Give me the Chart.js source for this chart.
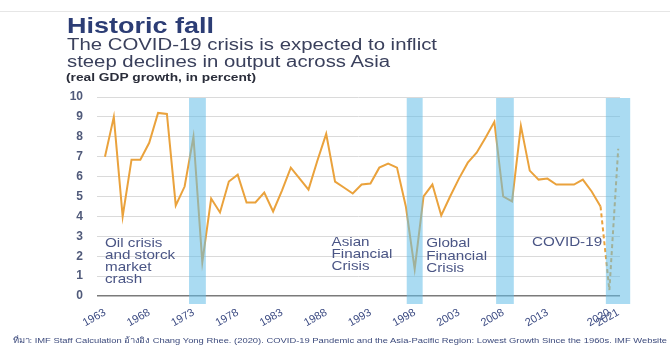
<!DOCTYPE html>
<html>
<head>
<meta charset="utf-8">
<script src="https://cdn.jsdelivr.net/npm/chart.js@4.4.1/dist/chart.umd.min.js"></script>
<style>
  html, body { margin: 0; padding: 0; background: #fff; }
  body { width: 670px; height: 347px; position: relative; overflow: hidden;
         font-family: "Liberation Sans", Arial, sans-serif; }
  #chart { position: absolute; left: 0; top: 0; }
  .txt { position: absolute; white-space: nowrap; display: inline-block;
         transform-origin: 0 0; line-height: 1; }
  #rule { position: absolute; left: 0; right: 0; top: 11px; height: 1px; background: #e6e6e6; }
  #title { left: 67px; top: 15px; font-size: 22px; font-weight: bold; color: #2c3d75; }
  #sub1 { left: 67px; top: 37px; font-size: 16px; color: #3a405c; }
  #sub2 { left: 67px; top: 53.5px; font-size: 16px; color: #3a405c; }
  #unit { left: 66px; top: 72px; font-size: 11px; font-weight: bold; color: #2a2d3a; }
  #source { left: 13px; top: 337px; font-size: 8px; color: #3c4a7c; }
</style>
</head>
<body>
<div id="rule"></div>
<canvas id="chart" width="670" height="347"></canvas>
<div class="txt" id="title" data-w="147">Historic fall</div>
<div class="txt" id="sub1" data-w="370">The COVID-19 crisis is expected to inflict</div>
<div class="txt" id="sub2" data-w="323">steep declines in output across Asia</div>
<div class="txt" id="unit" data-w="190">(real GDP growth, in percent)</div>
<div class="txt" id="source" data-w="654">ที่มา: IMF Staff Calculation อ้างอิง Chang Yong Rhee. (2020). COVID-19 Pandemic and the Asia-Pacific Region: Lowest Growth Since the 1960s. IMF Website</div>

<script>
"use strict";

// Real GDP growth, Asia (percent)
const years = [
  1963, 1964, 1965, 1966, 1967, 1968, 1969, 1970, 1971, 1972,
  1973, 1974, 1975, 1976, 1977, 1978, 1979, 1980, 1981, 1982,
  1983, 1984, 1985, 1986, 1987, 1988, 1989, 1990, 1991, 1992,
  1993, 1994, 1995, 1996, 1997, 1998, 1999, 2000, 2001, 2002,
  2003, 2004, 2005, 2006, 2007, 2008, 2009, 2010, 2011, 2012,
  2013, 2014, 2015, 2016, 2017, 2018, 2019,
];
const growth = [
  7.0, 9.0, 4.0, 6.85, 6.85, 7.7, 9.2, 9.15, 4.55, 5.5,
  8.0, 1.7, 4.9, 4.2, 5.75, 6.1, 4.7, 4.7, 5.2, 4.25,
  5.3, 6.45, 5.9, 5.35, 6.8, 8.15, 5.75, 5.45, 5.15, 5.6,
  5.65, 6.45, 6.65, 6.45, 4.5, 1.35, 5.0, 5.6, 4.05, 5.0,
  5.9, 6.7, 7.2, 7.95, 8.75, 5.0, 4.75, 8.55, 6.3, 5.85,
  5.9, 5.6, 5.6, 5.6, 5.85, 5.25, 4.5,
];

// IMF projection (dashed)
const forecastYears = [2019, 2020, 2021];
const forecastGrowth = [4.5, 0.3, 7.4];

const tickYears = [1963, 1968, 1973, 1978, 1983, 1988, 1993, 1998, 2003, 2008, 2013, 2020, 2021];

// Shaded crisis periods [from, to] in years
const crisisBands = [[1972.5, 1974.4], [1997.1, 1998.9], [2007.2, 2009.2], [2019.6, 2022.35]];

// Text notes anchored at (year, value)
const notes = [
  { year: 1963, value: 2.65, lines: ["Oil crisis", "and storck", "market", "crash"] },
  { year: 1988.6, value: 2.7, lines: ["Asian", "Financial", "Crisis"] },
  { year: 1999.3, value: 2.62, lines: ["Global", "Financial", "Crisis"] },
  { year: 2011.25, value: 2.7, lines: ["COVID-19"] },
];

const ORANGE = "#eaa23c";
const NAVY = "#3b4a82";

// stretch the html text to the widths seen in the reference
document.querySelectorAll(".txt").forEach(el => {
  const w = el.getBoundingClientRect().width;
  el.style.transform = `scaleX(${el.dataset.w / w})`;
});

const bandPlugin = {
  id: "bands",
  afterDatasetsDraw(chart) {
    const { ctx, chartArea, scales: { x } } = chart;
    ctx.save();
    ctx.fillStyle = "rgba(100,190,232,0.55)";
    crisisBands.forEach(([a, b]) => {
      const x0 = x.getPixelForValue(a);
      const x1 = x.getPixelForValue(b);
      ctx.fillRect(x0, chartArea.top + 1, x1 - x0, chartArea.bottom - chartArea.top + 7);
    });
    ctx.restore();
  },
};

const notePlugin = {
  id: "notes",
  afterDraw(chart) {
    const { ctx, scales: { x, y } } = chart;
    ctx.save();
    ctx.fillStyle = "#4a5585";
    ctx.font = "13px 'Liberation Sans', Arial, sans-serif";
    ctx.textBaseline = "middle";
    notes.forEach(n => {
      const px = x.getPixelForValue(n.year);
      const py = y.getPixelForValue(n.value);
      n.lines.forEach((line, i) => {
        ctx.save();
        ctx.translate(px, py + i * 12.2);
        ctx.scale(1.17, 1);
        ctx.fillText(line, 0, 0);
        ctx.restore();
      });
    });
    ctx.restore();
  },
};

new Chart(document.getElementById("chart"), {
  type: "line",
  data: {
    datasets: [
      {
        data: years.map((yr, i) => ({ x: yr, y: growth[i] })),
        borderColor: ORANGE,
        borderWidth: 2,
        pointRadius: 0,
        tension: 0,
      },
      {
        data: forecastYears.map((yr, i) => ({ x: yr, y: forecastGrowth[i] })),
        borderColor: ORANGE,
        borderWidth: 2,
        borderDash: [4, 3],
        pointRadius: 0,
        tension: 0,
      },
    ],
  },
  options: {
    responsive: false,
    animation: false,
    events: [],
    plugins: { legend: { display: false }, tooltip: { enabled: false } },
    layout: { padding: { top: 97, right: 50, bottom: 11, left: 0 } },
    scales: {
      x: {
        type: "linear",
        min: 1962.1,
        max: 2021.2,
        grid: { display: false },
        border: { display: false },
        afterBuildTicks: s => { s.ticks = tickYears.map(v => ({ value: v })); },
        afterFit: s => { s.height = 40; },
        ticks: {
          autoSkip: false,
          minRotation: 30,
          maxRotation: 30,
          padding: 2,
          color: NAVY,
          font: { family: "'Liberation Sans', Arial, sans-serif", size: 11 },
          callback: v => String(v),
        },
      },
      y: {
        min: 0,
        max: 10,
        afterFit: s => { s.width = 97; },
        border: { display: false },
        grid: {
          drawTicks: false,
          color: c => (c.tick.value === 0 ? "#7a7a7a" : "#dadada"),
          lineWidth: c => (c.tick.value === 0 ? 1.5 : 1),
        },
        ticks: {
          stepSize: 1,
          padding: 14,
          color: "#505a7a",
          font: { family: "'Liberation Sans', Arial, sans-serif", size: 12, weight: "bold" },
        },
      },
    },
  },
  plugins: [bandPlugin, notePlugin],
});
</script>
</body>
</html>
